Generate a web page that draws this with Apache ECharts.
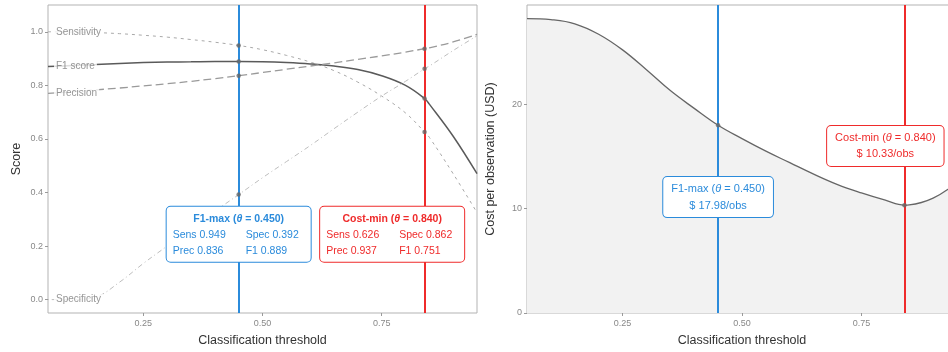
<!DOCTYPE html>
<html>
<head>
<meta charset="utf-8">
<script src="https://cdn.jsdelivr.net/npm/echarts@6/dist/echarts.min.js"></script>
<style>
  html, body { margin: 0; padding: 0; background: #fff; }
  #main { width: 948px; height: 352px; }
</style>
</head>
<body>
<div id="main"></div>
<script>
var chart = echarts.init(document.getElementById('main'))

// thresholds where the curves are read
var thresholds = [0.05, 0.10, 0.15, 0.20, 0.25, 0.30, 0.35, 0.40, 0.45, 0.50, 0.55, 0.60, 0.65, 0.70, 0.75, 0.80, 0.84, 0.85, 0.90, 0.95]
var sensitivity = [1.000, 0.999, 0.997, 0.993, 0.987, 0.980, 0.971, 0.961, 0.949, 0.933, 0.912, 0.887, 0.855, 0.812, 0.760, 0.697, 0.626, 0.606, 0.470, 0.325]
var f1score = [0.870, 0.874, 0.878, 0.882, 0.885, 0.887, 0.888, 0.889, 0.889, 0.888, 0.885, 0.880, 0.872, 0.859, 0.836, 0.800, 0.751, 0.730, 0.610, 0.470]
var precision = [0.770, 0.776, 0.783, 0.790, 0.798, 0.806, 0.815, 0.825, 0.836, 0.848, 0.860, 0.872, 0.884, 0.897, 0.910, 0.924, 0.937, 0.940, 0.962, 0.990]
var specificity = [0.000, 0.000, 0.010, 0.065, 0.135, 0.200, 0.265, 0.330, 0.392, 0.455, 0.515, 0.575, 0.638, 0.700, 0.760, 0.815, 0.862, 0.872, 0.930, 0.985]
var cost = [28.2, 28.1, 27.7, 26.7, 25.2, 23.3, 21.3, 19.6, 17.98, 16.7, 15.5, 14.4, 13.3, 12.3, 11.5, 10.8, 10.33, 10.35, 11.0, 12.5]

// the two chosen thresholds: F1-max and Cost-min
var pickNames = ['F1-max', 'Cost-min']
var pickTheta = [0.45, 0.84]
var pickSens = [0.949, 0.626]
var pickSpec = [0.392, 0.862]
var pickPrec = [0.836, 0.937]
var pickF1 = [0.889, 0.751]
var pickCost = [17.98, 10.33]

var xTicks = [0.25, 0.50, 0.75]
var scoreTicks = [0, 0.2, 0.4, 0.6, 0.8, 1.0]
var costTicks = [0, 10, 20]
var curveNames = ['Sensitivity', 'F1 score', 'Precision', 'Specificity']

var BLUE = '#2b8bdb'
var RED = '#ef2b2b'
var pickColors = [BLUE, RED]
var FONT = 'Liberation Sans'

function pts(ys) {
  return thresholds.map(function (t, i) { return [t, ys[i]] })
}

function xAxisOf(idx) {
  return {
    type: 'value', gridIndex: idx, min: 0.05, max: 0.95,
    name: 'Classification threshold', nameLocation: 'middle', nameGap: 21,
    nameTextStyle: { color: '#333', fontSize: 12.5, fontFamily: FONT },
    axisLine: { show: false, onZero: false },
    axisTick: { show: true, length: 3, customValues: xTicks, lineStyle: { color: '#999' } },
    axisLabel: {
      customValues: xTicks, color: '#888', fontSize: 9, margin: 6, fontFamily: FONT,
      formatter: function (v) { return v.toFixed(2) }
    },
    splitLine: { show: false }
  }
}

var curveStyles = [
  { color: '#a8a8a8', width: 1, type: [3, 4] },
  { color: '#5a5a5a', width: 1.5, type: 'solid' },
  { color: '#9a9a9a', width: 1.3, type: [8, 4] },
  { color: '#bdbdbd', width: 1, type: [1, 3, 5, 3] }
]
var curveData = [sensitivity, f1score, precision, specificity]

var series = []
curveData.forEach(function (ys, k) {
  series.push({
    name: curveNames[k], type: 'line', xAxisIndex: 0, yAxisIndex: 0,
    data: pts(ys), smooth: 0.4, showSymbol: false, z: 2,
    lineStyle: curveStyles[k]
  })
})

// vertical threshold lines
;[0, 1].forEach(function (g) {
  series.push({
    type: 'line', xAxisIndex: g, yAxisIndex: g, data: [], z: 3,
    markLine: {
      symbol: 'none', silent: true, label: { show: false },
      data: pickTheta.map(function (t, i) {
        return { xAxis: t, lineStyle: { color: pickColors[i], width: 2, type: 'solid' } }
      })
    }
  })
})

// curve labels at the left end
series.push({
  type: 'scatter', xAxisIndex: 0, yAxisIndex: 0, symbolSize: 0, z: 6,
  data: curveData.map(function (ys, k) {
    return { name: curveNames[k], value: [thresholds[0], ys[0]] }
  }),
  label: {
    show: true, position: 'right', distance: 6, formatter: '{b}',
    color: '#7a7a7a', fontSize: 10, fontFamily: FONT,
    backgroundColor: '#fff', padding: [1, 2]
  }
})

// dots where the threshold lines cross the curves
var dots = []
pickTheta.forEach(function (t, i) {
  dots.push([t, pickSens[i]], [t, pickF1[i]], [t, pickPrec[i]], [t, pickSpec[i]])
})
series.push({
  type: 'scatter', xAxisIndex: 0, yAxisIndex: 0, data: dots, z: 5,
  symbolSize: 4.5, itemStyle: { color: '#666' }
})

function th(i) {
  return '{t|' + pickNames[i] + ' (}{ti|θ}{t| = ' + pickTheta[i].toFixed(3) + ')}'
}
function boxLabel(i, text, rich, pad) {
  return {
    show: true, position: 'inside', formatter: text, align: 'center',
    backgroundColor: '#fff', borderColor: pickColors[i], borderWidth: 1, borderRadius: 4,
    padding: pad, rich: rich
  }
}
function richFor(i, colW, titleWeight, size) {
  var c = pickColors[i]
  return {
    t: { color: c, fontSize: size, fontWeight: titleWeight, fontFamily: FONT, lineHeight: 16 },
    ti: { color: c, fontSize: size, fontWeight: titleWeight, fontStyle: 'italic', fontFamily: FONT, lineHeight: 16 },
    c1: { color: c, fontSize: 10.5, fontFamily: FONT, lineHeight: 16, width: colW[0], align: 'left' },
    c2: { color: c, fontSize: 10.5, fontFamily: FONT, lineHeight: 16, width: colW[1], align: 'left' },
    v: { color: c, fontSize: size, fontFamily: FONT, lineHeight: 17 }
  }
}

// stat boxes, left panel
var leftBoxPos = [[0.45, 0.244], [0.772, 0.244]]
series.push({
  type: 'scatter', xAxisIndex: 0, yAxisIndex: 0, data: [], z: 8,
  markPoint: {
    symbol: 'circle', symbolSize: 0, silent: true,
    data: pickTheta.map(function (t, i) {
      var txt = th(i) + '\n' +
        '{c1|Sens ' + pickSens[i].toFixed(3) + '}{c2|Spec ' + pickSpec[i].toFixed(3) + '}\n' +
        '{c1|Prec ' + pickPrec[i].toFixed(3) + '}{c2|F1 ' + pickF1[i].toFixed(3) + '}'
      return {
        coord: leftBoxPos[i],
        label: boxLabel(i, txt, richFor(i, [73, 59], 'bold', 10.5), [4, 6, 3, 6])
      }
    })
  }
})

// cost curve, right panel
series.push({
  type: 'line', xAxisIndex: 1, yAxisIndex: 1, data: pts(cost), smooth: 0.4,
  showSymbol: false, z: 2,
  lineStyle: { color: '#666', width: 1.3 },
  areaStyle: { color: '#f2f2f2', opacity: 1 }
})
series.push({
  type: 'scatter', xAxisIndex: 1, yAxisIndex: 1, z: 5, symbolSize: 4.5,
  itemStyle: { color: '#666' },
  data: pickTheta.map(function (t, i) { return [t, pickCost[i]] })
})
var rightBoxPos = [[0.45, 11.1], [0.80, 16.0]]
series.push({
  type: 'scatter', xAxisIndex: 1, yAxisIndex: 1, data: [], z: 8,
  markPoint: {
    symbol: 'circle', symbolSize: 0, silent: true,
    data: pickTheta.map(function (t, i) {
      var txt = th(i) + '\n{v|$ ' + pickCost[i].toFixed(2) + '/obs}'
      return {
        coord: rightBoxPos[i],
        label: boxLabel(i, txt, richFor(i, [0, 0], 'normal', 11), [4, 8, 3, 8])
      }
    })
  }
})

var option = {
  animation: false,
  textStyle: { fontFamily: FONT },
  grid: [
    { left: 48, width: 429, top: 5, bottom: 39, outerBoundsMode: 'none', show: true, borderColor: '#b3b3b3', borderWidth: 1, backgroundColor: 'transparent' },
    { left: 527, width: 430, top: 5, bottom: 39, outerBoundsMode: 'none', show: true, borderColor: '#b3b3b3', borderWidth: 1, backgroundColor: 'transparent' }
  ],
  xAxis: [xAxisOf(0), xAxisOf(1)],
  yAxis: [
    {
      type: 'value', gridIndex: 0, min: -0.05, max: 1.10,
      name: 'Score', nameLocation: 'middle', nameGap: 25,
      nameTextStyle: { color: '#333', fontSize: 12.5, fontFamily: FONT },
      axisLine: { show: false, onZero: false },
      axisTick: { show: true, length: 3, customValues: scoreTicks, lineStyle: { color: '#999' } },
      axisLabel: {
        customValues: scoreTicks, color: '#888', fontSize: 9, margin: 5, fontFamily: FONT,
        formatter: function (v) { return v.toFixed(1) }
      },
      splitLine: { show: false }
    },
    {
      type: 'value', gridIndex: 1, min: 0, max: 29.5,
      name: 'Cost per observation (USD)', nameLocation: 'middle', nameGap: 30,
      nameTextStyle: { color: '#333', fontSize: 12.5, fontFamily: FONT },
      axisLine: { show: false, onZero: false },
      axisTick: { show: true, length: 3, customValues: costTicks, lineStyle: { color: '#999' } },
      axisLabel: { customValues: costTicks, color: '#888', fontSize: 9, margin: 5, fontFamily: FONT },
      splitLine: { show: false }
    }
  ],
  series: series
}
chart.setOption(option)
</script>
</body>
</html>
